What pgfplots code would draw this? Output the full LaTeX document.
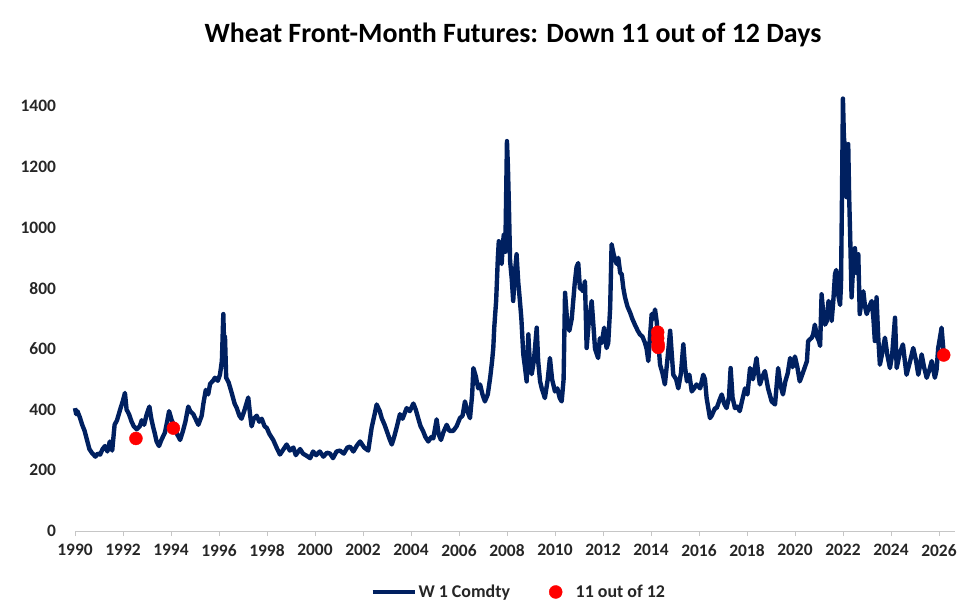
\documentclass[border=0pt]{standalone}
\usepackage{pgfplots}
\pgfplotsset{compat=1.18}
\usepackage{pgfplotstable}
\usepackage{fontspec}
\setmainfont{Carlito}
\definecolor{navy}{HTML}{002060}
\definecolor{lbl}{HTML}{262626}
\pgfplotstableread{
x y
1990.00 405
1990.05 385
1990.10 395
1990.20 375
1990.30 350
1990.40 330
1990.50 300
1990.60 270
1990.70 258
1990.85 245
1990.95 255
1991.05 252
1991.15 270
1991.25 280
1991.35 262
1991.45 295
1991.55 265
1991.65 350
1991.75 365
1991.90 405
1992.00 430
1992.08 455
1992.15 400
1992.25 385
1992.36 360
1992.45 345
1992.57 335
1992.70 345
1992.78 365
1992.88 350
1992.99 385
1993.10 410
1993.18 370
1993.25 345
1993.33 320
1993.40 295
1993.50 280
1993.60 300
1993.75 325
1993.85 365
1993.92 395
1994.03 365
1994.15 345
1994.25 320
1994.38 300
1994.50 330
1994.60 360
1994.72 410
1994.80 395
1994.93 385
1995.05 365
1995.14 350
1995.28 380
1995.35 420
1995.45 465
1995.55 450
1995.63 485
1995.75 495
1995.83 505
1995.95 495
1996.04 515
1996.12 560
1996.18 715
1996.22 600
1996.25 640
1996.30 505
1996.40 490
1996.53 455
1996.65 420
1996.74 405
1996.85 380
1996.94 370
1997.05 395
1997.22 440
1997.30 380
1997.36 345
1997.45 370
1997.57 380
1997.68 360
1997.78 370
1997.90 345
1997.99 340
1998.10 320
1998.26 300
1998.40 275
1998.54 252
1998.65 265
1998.82 285
1998.95 265
1999.10 275
1999.20 250
1999.38 270
1999.50 255
1999.65 248
1999.80 240
1999.92 262
2000.05 250
2000.20 262
2000.35 245
2000.50 258
2000.63 255
2000.75 240
2000.90 262
2001.04 265
2001.20 255
2001.35 275
2001.46 278
2001.60 262
2001.75 282
2001.88 295
2002.05 275
2002.22 265
2002.36 340
2002.50 390
2002.57 417
2002.70 395
2002.78 372
2002.90 350
2002.99 330
2003.10 305
2003.20 285
2003.30 310
2003.40 340
2003.54 385
2003.65 370
2003.82 405
2003.95 395
2004.10 420
2004.20 400
2004.30 372
2004.40 345
2004.50 330
2004.60 310
2004.72 295
2004.85 310
2004.93 305
2005.07 368
2005.15 320
2005.25 300
2005.35 325
2005.49 350
2005.60 330
2005.76 330
2005.90 345
2006.04 372
2006.15 380
2006.25 427
2006.35 395
2006.46 372
2006.55 450
2006.60 537
2006.70 510
2006.80 470
2006.88 483
2006.98 450
2007.08 427
2007.20 450
2007.30 505
2007.38 560
2007.43 603
2007.47 670
2007.55 760
2007.62 900
2007.66 955
2007.72 900
2007.78 880
2007.82 940
2007.87 978
2007.93 920
2008.00 1285
2008.04 1200
2008.08 1077
2008.13 890
2008.20 830
2008.26 758
2008.33 850
2008.40 912
2008.47 820
2008.54 758
2008.60 700
2008.68 582
2008.75 540
2008.82 493
2008.89 648
2008.95 560
2009.03 517
2009.12 560
2009.24 670
2009.30 560
2009.38 493
2009.45 470
2009.58 438
2009.70 500
2009.79 570
2009.88 500
2010.00 460
2010.10 470
2010.20 438
2010.28 427
2010.36 500
2010.42 785
2010.50 700
2010.60 660
2010.70 700
2010.82 813
2010.90 870
2010.97 883
2011.04 800
2011.10 797
2011.18 790
2011.25 823
2011.32 603
2011.40 680
2011.53 758
2011.60 680
2011.67 600
2011.80 570
2011.87 635
2011.95 620
2012.05 670
2012.15 603
2012.22 620
2012.30 735
2012.36 945
2012.45 910
2012.57 880
2012.64 900
2012.72 850
2012.78 847
2012.85 800
2012.92 770
2013.02 740
2013.13 720
2013.22 700
2013.33 680
2013.45 660
2013.54 648
2013.65 640
2013.75 620
2013.82 600
2013.89 560
2013.96 640
2014.03 715
2014.10 700
2014.17 730
2014.24 690
2014.30 630
2014.38 548
2014.48 520
2014.58 483
2014.68 560
2014.80 660
2014.87 580
2014.93 515
2015.05 500
2015.14 470
2015.25 520
2015.35 615
2015.42 540
2015.50 493
2015.60 515
2015.70 460
2015.80 470
2015.90 483
2016.05 470
2016.18 515
2016.25 500
2016.32 438
2016.46 372
2016.53 380
2016.67 405
2016.74 405
2016.85 430
2016.95 450
2017.05 420
2017.15 405
2017.25 440
2017.32 537
2017.40 440
2017.50 405
2017.60 410
2017.70 395
2017.80 430
2017.92 470
2018.02 450
2018.13 537
2018.25 500
2018.40 570
2018.47 520
2018.54 483
2018.65 510
2018.75 527
2018.88 470
2019.03 427
2019.17 417
2019.30 537
2019.40 480
2019.50 450
2019.60 493
2019.70 520
2019.80 570
2019.90 540
2020.00 575
2020.10 540
2020.20 493
2020.28 510
2020.40 537
2020.50 560
2020.55 626
2020.70 637
2020.76 648
2020.83 680
2020.92 640
2021.00 626
2021.05 610
2021.11 780
2021.18 720
2021.25 680
2021.32 690
2021.40 758
2021.46 745
2021.53 692
2021.60 760
2021.67 847
2021.72 860
2021.80 780
2021.88 745
2021.92 813
2021.96 1100
2022.00 1425
2022.04 1300
2022.08 1263
2022.15 1100
2022.22 1275
2022.26 1100
2022.30 978
2022.36 770
2022.43 880
2022.50 932
2022.57 850
2022.64 912
2022.70 715
2022.78 760
2022.85 790
2022.92 740
2022.99 715
2023.10 740
2023.20 758
2023.27 700
2023.33 626
2023.40 770
2023.47 640
2023.54 548
2023.62 580
2023.75 637
2023.85 580
2023.96 537
2024.05 580
2024.17 703
2024.24 537
2024.35 580
2024.50 615
2024.58 560
2024.65 515
2024.80 560
2024.93 603
2025.05 560
2025.14 515
2025.20 540
2025.28 582
2025.38 540
2025.49 505
2025.60 530
2025.70 560
2025.83 505
2025.90 530
2025.97 603
2026.05 640
2026.11 670
2026.18 603
2026.22 580
}\wheat
\pgfplotstableread{
x y
1992.54 305
1994.10 339
2014.28 655
2014.28 635
2014.30 615
2014.30 605
2026.20 580
}\dots
\begin{document}
\begin{tikzpicture}
\useasboundingbox (0,0) rectangle (969bp,609bp);
\node[font=\fontsize{28}{32}\selectfont\bfseries, text=black] at (513bp,574bp) {Wheat Front-Month Futures: Down 11 out of 12 Days};
\begin{axis}[
  at={(75bp,78bp)}, anchor=south west,
  scale only axis, width=880bp, height=440bp,
  xmin=1990, xmax=2026.67, ymin=0, ymax=1450,
  axis lines*=left,
  y axis line style={draw=none},
  x axis line style={draw=gray!45, line width=0.8pt},
  xtick={1990,1992,...,2026},
  ytick={0,200,...,1400},
  tick align=outside,
  xtick style={draw=gray!45, line width=0.8pt},
  ytick style={draw=none},
  major tick length=5bp,
  /pgf/number format/assume math mode=true,
  /pgf/number format/1000 sep={},
  ticklabel style={font=\fontsize{17.5}{20}\selectfont\bfseries, text=lbl},
  yticklabel style={xshift=-10.5bp},
  xticklabel style={yshift=-5bp},
  clip=false,
  legend style={at={(0.5045,-0.1386)}, anchor=center, draw=none,
    font=\fontsize{18}{20}\selectfont\bfseries, text=lbl, legend columns=2,
    /tikz/every even column/.append style={column sep=37bp}},
]
\addplot[navy, line width=4.4pt, line join=round, legend image code/.code={\draw[navy, line width=3.6pt] (0bp,0bp) -- (42bp,0bp);}] table[x=x,y=y] {\wheat};
\addlegendentry{W 1 Comdty}
\addplot[only marks, mark=*, mark size=6.5bp, red, mark options={draw=none, fill=red},
  legend image code/.code={\fill[red] (0bp,0bp) circle (6.5bp); \path[draw=none, fill=none] (-6.5bp,-1bp) rectangle (18bp,1bp);}] table[x=x,y=y] {\dots};
\addlegendentry{11 out of 12}
\end{axis}
\end{tikzpicture}
\end{document}
